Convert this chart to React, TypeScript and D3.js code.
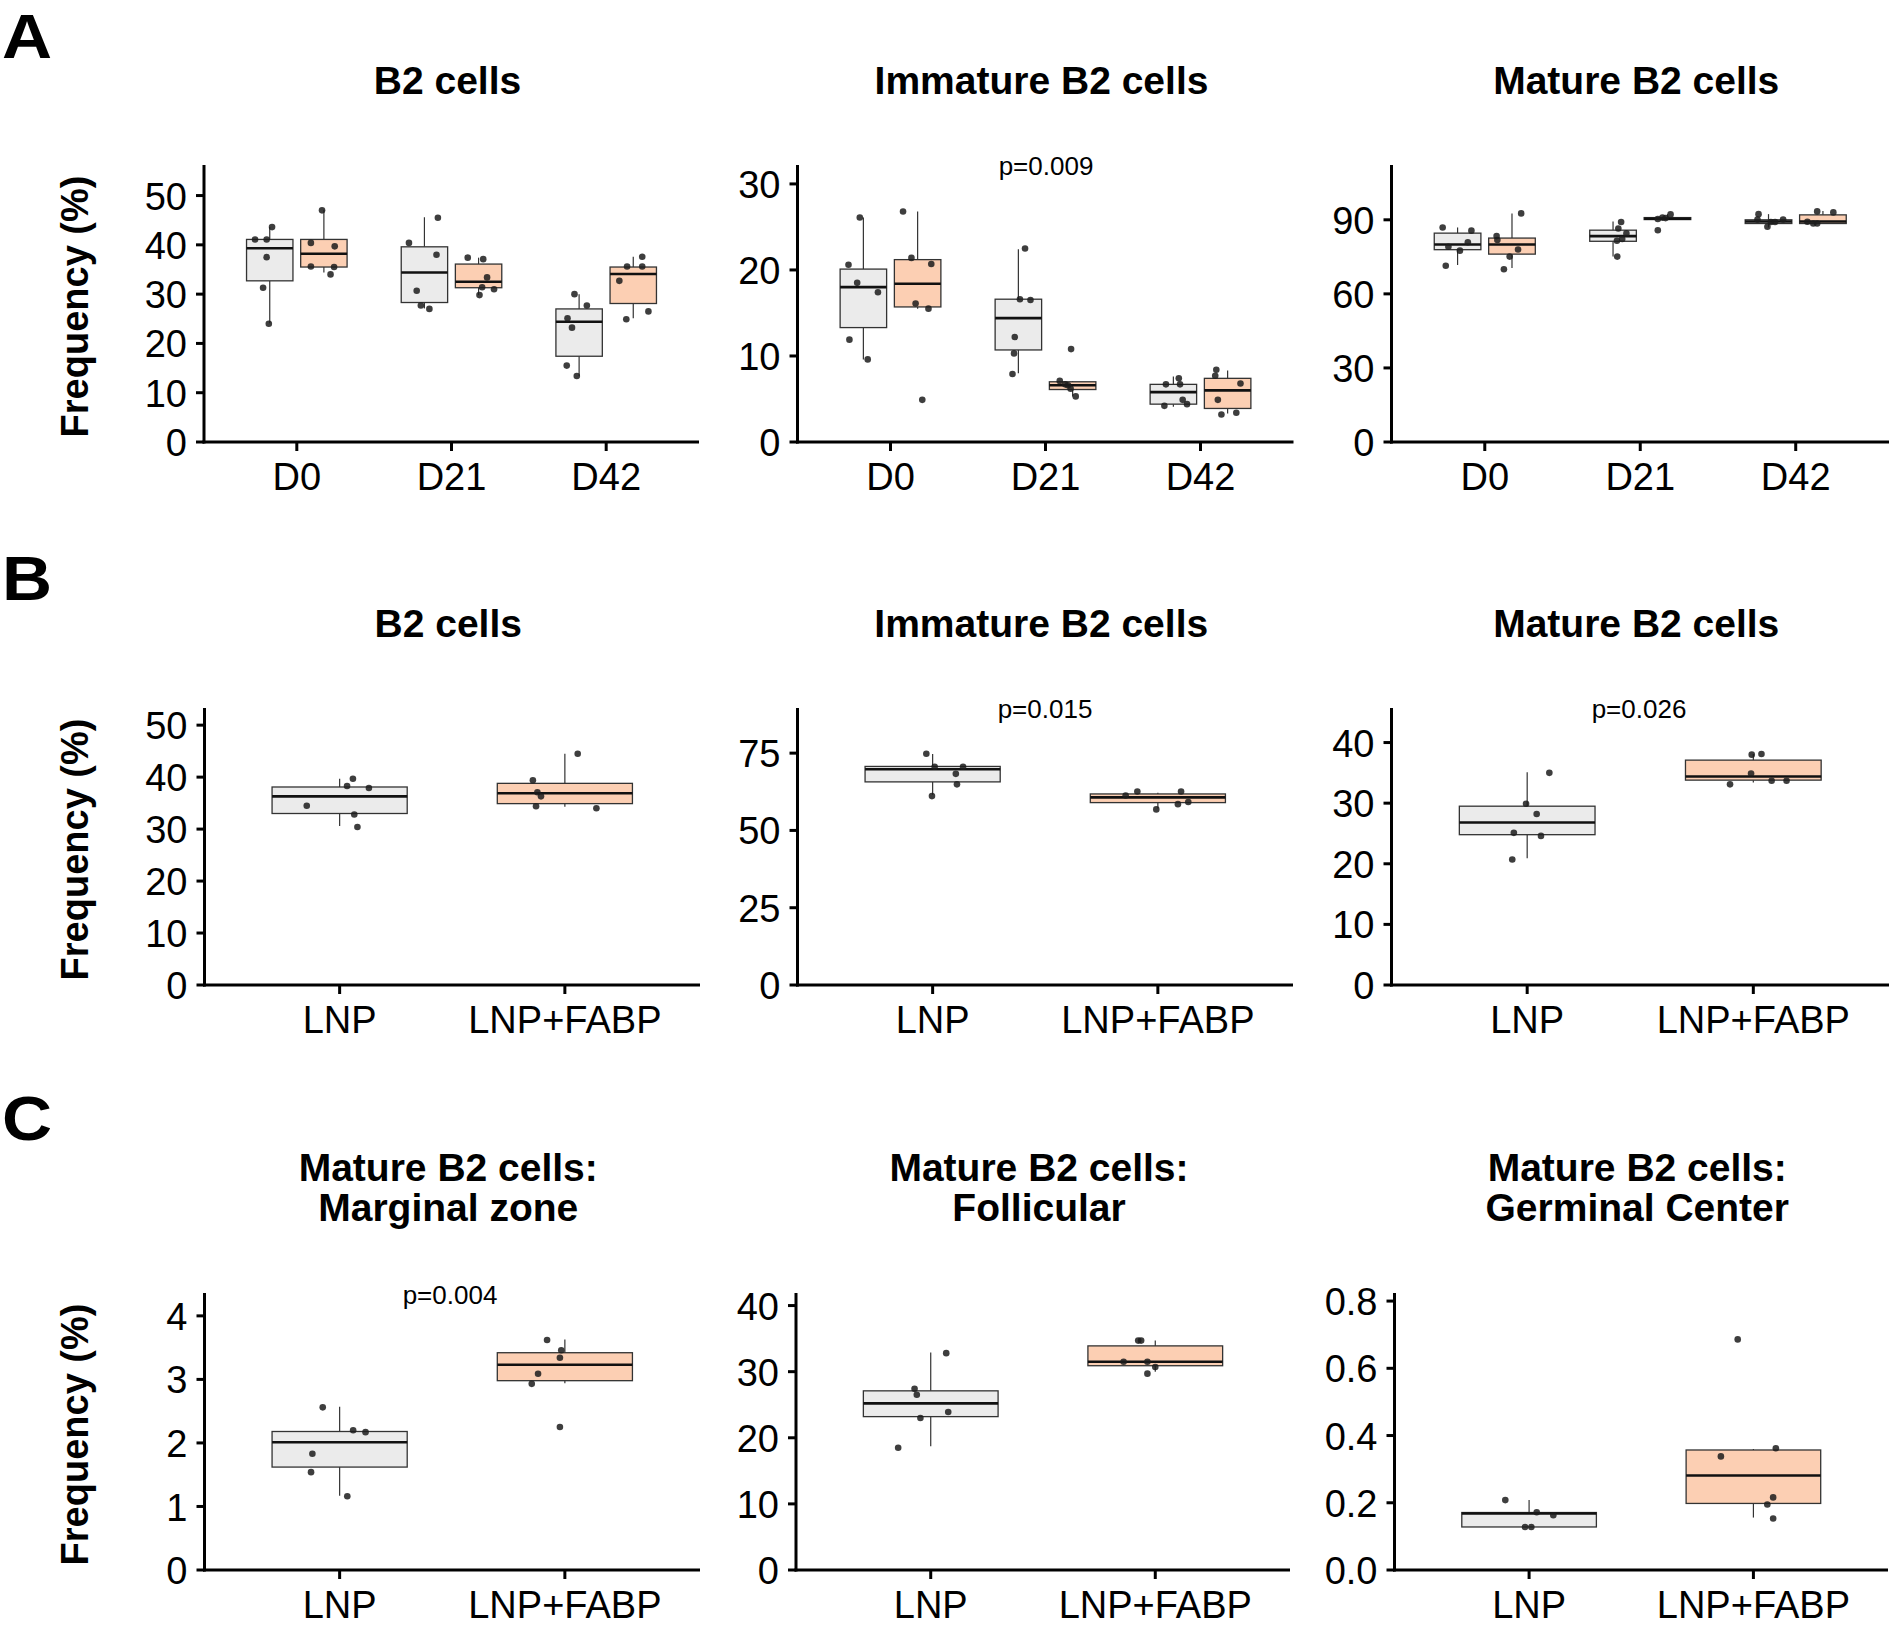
import * as d3 from "d3";

// categories
const days = ["D0", "D21", "D42"];
const treatments = ["LNP", "LNP+FABP"];
const fills = ["#ebebeb", "#fccfb3"];

// box stats per group: [lower whisker, Q1, median, Q3, upper whisker]
// row A groups are ordered D0 LNP, D0 LNP+FABP, D21 LNP, ...
const aB2Box = [
  [24.1, 32.7, 39.3, 41.1, 43.6], [34.4, 35.5, 38.2, 41.1, 47.1],
  [27.1, 28.3, 34.4, 39.6, 45.6], [29.8, 31.3, 32.5, 36.1, 37.4],
  [13.4, 17.4, 24.4, 27.0, 30.0], [25.1, 28.1, 34.1, 35.5, 37.6],
];
// points: [value, horizontal jitter in category units]
const aB2Pts = [
  [[41.1, -0.095], [41.1, -0.02], [43.6, 0.015], [37.5, -0.02], [31.3, -0.043], [24.0, -0.006]],
  [[47.0, -0.012], [40.4, -0.084], [39.7, 0.07], [35.6, -0.084], [35.5, 0.066], [34.0, 0.043]],
  [[45.5, 0.087], [40.4, -0.1], [38.0, 0.078], [30.7, -0.05], [27.7, -0.023], [27.0, 0.032]],
  [[37.4, -0.07], [37.1, 0.03], [33.4, 0.055], [31.4, 0.023], [31.0, 0.1], [29.8, 0.006]],
  [[30.0, -0.03], [27.7, 0.05], [25.1, -0.075], [23.2, -0.046], [15.5, -0.08], [13.4, -0.015]],
  [[37.6, 0.058], [35.6, -0.04], [35.6, 0.058], [32.7, -0.09], [26.5, 0.098], [24.9, -0.045]],
];

const aImmBox = [
  [9.6, 13.3, 18.0, 20.1, 26.1], [15.5, 15.7, 18.4, 21.2, 26.8],
  [8.0, 10.7, 14.4, 16.6, 22.4], [5.3, 6.1, 6.6, 7.0, 7.1],
  [4.1, 4.4, 5.8, 6.7, 7.6], [3.3, 3.9, 6.0, 7.4, 8.3],
];
const aImmPts = [
  [[26.1, -0.023], [20.6, -0.096], [18.5, -0.04], [17.4, 0.094], [11.9, -0.09], [9.6, 0.028]],
  [[26.8, -0.094], [21.4, -0.04], [20.7, 0.088], [16.1, -0.013], [15.5, 0.07], [4.9, 0.03]],
  [[22.5, 0.043], [16.6, 0.01], [16.5, 0.078], [12.2, -0.023], [10.3, -0.028], [7.9, -0.038]],
  [[10.8, -0.01], [7.1, -0.083], [6.7, -0.048], [6.6, -0.03], [6.2, -0.013], [5.3, 0.02]],
  [[6.7, -0.048], [7.4, 0.035], [6.7, 0.043], [4.9, 0.06], [4.4, 0.088], [4.2, -0.058]],
  [[8.4, -0.073], [7.7, -0.08], [6.8, 0.083], [4.9, -0.063], [3.2, -0.04], [3.4, 0.056]],
];

const aMatBox = [
  [71.7, 77.9, 80.0, 84.6, 86.9], [70.5, 76.1, 80.0, 82.6, 92.6],
  [75.1, 81.3, 83.4, 85.8, 89.3], [90.1, 90.1, 90.4, 90.9, 92.3],
  [86.9, 88.5, 89.3, 90.0, 92.3], [88.5, 88.5, 89.3, 92.0, 93.6],
];
const aMatPts = [
  [[86.9, -0.096], [85.6, 0.089], [80.9, 0.066], [79.1, -0.059], [77.5, 0.015], [71.4, -0.076]],
  [[92.6, 0.059], [83.4, -0.099], [81.8, -0.094], [78.0, 0.039], [75.1, -0.015], [70.0, -0.052]],
  [[89.1, 0.052], [86.5, 0.034], [84.5, 0.086], [82.2, 0.059], [81.5, 0.025], [75.1, 0.027]],
  [[85.8, -0.062], [90.3, -0.062], [90.9, -0.032], [90.7, -0.012], [92.2, 0.02]],
  [[92.3, -0.064], [90.1, -0.071], [87.2, -0.007], [89.1, 0.015], [89.1, 0.042], [90.1, 0.094]],
  [[93.4, -0.037], [93.0, 0.067], [89.2, -0.1], [88.5, -0.062], [88.5, -0.037]],
];

// rows B and C: groups are LNP, LNP+FABP
const bB2Box = [[30.6, 33.0, 36.3, 38.1, 39.7], [34.3, 34.9, 36.9, 38.8, 44.5]];
const bB2Pts = [
  [[39.7, 0.059], [38.3, 0.033], [37.9, 0.13], [34.5, -0.146], [32.8, 0.065], [30.4, 0.079]],
  [[44.5, 0.057], [39.4, -0.142], [37.1, -0.122], [36.3, -0.106], [34.4, -0.128], [34.0, 0.14]],
];
const bImmBox = [[61.5, 65.7, 69.8, 70.7, 74.7], [57.1, 59.0, 60.7, 61.8, 62.2]];
const bImmPts = [
  [[74.8, -0.028], [70.6, 0.009], [70.6, 0.135], [68.3, 0.103], [64.9, 0.108], [61.1, -0.003]],
  [[61.3, -0.143], [62.6, -0.091], [62.6, 0.103], [56.8, -0.007], [58.5, 0.089], [59.2, 0.135]],
];
const bMatBox = [[20.9, 24.8, 26.8, 29.5, 35.1], [33.4, 33.8, 34.4, 37.1, 38.1]];
const bMatPts = [
  [[35.0, 0.098], [29.9, -0.005], [28.2, 0.042], [25.1, -0.059], [24.6, 0.061], [20.7, -0.066]],
  [[38.0, -0.007], [38.1, 0.036], [34.9, -0.01], [33.1, -0.103], [33.7, 0.081], [33.7, 0.147]],
];
const cMzBox = [[1.17, 1.62, 2.01, 2.18, 2.57], [2.94, 2.98, 3.23, 3.42, 3.63]];
const cMzPts = [
  [[2.56, -0.075], [2.2, 0.06], [2.17, 0.115], [1.83, -0.121], [1.54, -0.127], [1.16, 0.034]],
  [[3.62, -0.079], [3.46, -0.016], [3.34, -0.022], [3.09, -0.119], [2.93, -0.147], [2.25, -0.022]],
];
const cFolBox = [[18.7, 23.2, 25.2, 27.1, 32.9], [30.0, 30.9, 31.5, 33.9, 34.7]];
const cFolPts = [
  [[32.8, 0.069], [27.4, -0.072], [26.5, -0.062], [23.9, 0.078], [23.0, -0.046], [18.5, -0.145]],
  [[34.7, -0.076], [34.7, -0.063], [31.5, -0.141], [31.5, -0.035], [30.7, 0.0], [29.7, -0.035]],
];
const cGcBox = [[0.128, 0.128, 0.168, 0.171, 0.208], [0.156, 0.198, 0.281, 0.357, 0.36]];
const cGcPts = [
  [[0.208, -0.106], [0.172, 0.034], [0.163, 0.108], [0.128, -0.018], [0.128, 0.01]],
  [[0.686, -0.07], [0.362, 0.1], [0.338, -0.145], [0.216, 0.088], [0.195, 0.062], [0.153, 0.088]],
];

const FONT = "'Liberation Sans', Arial, sans-serif";
const TICK_FS = 38;

type Spec = {
  cats: string[];
  dodge: boolean;
  boxes: number[][];
  pts: number[][][];
  x0: number; x1: number; yTop: number; yBot: number; yMax: number;
  ticks: number[]; fmt?: (v: number) => string;
  title: string[]; titleY: number;
  p?: string; pX?: number; pY?: number;
  yTitle?: boolean;
};

function Panel({ s }: { s: Spec }) {
  const x = d3.scalePoint<string>().domain(s.cats).range([s.x0, s.x1]).padding(0.6);
  const unit = x.step();
  const y = d3.scaleLinear().domain([0, s.yMax]).range([s.yBot, s.yTop]);
  const fmt = s.fmt ?? ((v: number) => String(v));
  const boxW = s.dodge ? 0.3 * unit : 0.6 * unit;
  const nS = s.dodge ? 2 : 1;

  const groups = s.boxes.map((b, i) => {
    const cat = s.cats[Math.floor(i / nS)];
    const series = s.dodge ? i % 2 : i;
    const off = s.dodge ? (series - 0.5) * 0.35 * unit : 0;
    return { b, cx: (x(cat) as number) + off, fill: fills[series], pts: s.pts[i] };
  });
  const cxMid = (s.x0 + s.x1) / 2 - 4;

  return (
    <g>
      {s.title.map((t, i) => (
        <text key={i} x={cxMid} y={s.titleY + i * 40} textAnchor="middle" fontFamily={FONT}
          fontWeight="bold" fontSize={39} fill="#000">{t}</text>
      ))}
      {s.yTitle && (
        <text transform={`translate(88,${(s.yTop + s.yBot) / 2 + 3}) rotate(-90)`} textAnchor="middle"
          fontFamily={FONT} fontWeight="bold" fontSize={38} fill="#000">Frequency (%)</text>
      )}
      {s.p && (
        <text x={s.pX} y={s.pY} textAnchor="middle" fontFamily={FONT} fontSize={26} fill="#000">{s.p}</text>
      )}
      {groups.map((g, i) => {
        const [lo, q1, med, q3, hi] = g.b;
        return (
          <g key={i}>
            <line x1={g.cx} x2={g.cx} y1={y(hi)} y2={y(q3)} stroke="#333" strokeWidth={1.2} />
            <line x1={g.cx} x2={g.cx} y1={y(q1)} y2={y(lo)} stroke="#333" strokeWidth={1.2} />
            <rect x={g.cx - boxW / 2} width={boxW} y={y(q3)} height={Math.max(0.5, y(q1) - y(q3))}
              fill={g.fill} stroke="#333" strokeWidth={1.3} />
            <line x1={g.cx - boxW / 2} x2={g.cx + boxW / 2} y1={y(med)} y2={y(med)} stroke="#111" strokeWidth={2.6} />
          </g>
        );
      })}
      {groups.map((g, i) =>
        g.pts.map((p, k) => (
          <circle key={`${i}-${k}`} cx={g.cx + p[1] * unit} cy={y(p[0])} r={3.3} fill="#1c1c1c" fillOpacity={0.85} />
        ))
      )}
      {/* axes */}
      <line x1={s.x0} x2={s.x0} y1={s.yTop} y2={s.yBot + 1.5} stroke="#000" strokeWidth={3} />
      <line x1={s.x0 - 1.5} x2={s.x1} y1={s.yBot} y2={s.yBot} stroke="#000" strokeWidth={3} />
      {s.ticks.map((t) => (
        <g key={t}>
          <line x1={s.x0 - 8} x2={s.x0} y1={y(t)} y2={y(t)} stroke="#000" strokeWidth={3} />
          <text x={s.x0 - 17} y={y(t) + 0.37 * TICK_FS} textAnchor="end" fontFamily={FONT} fontSize={TICK_FS} fill="#000">{fmt(t)}</text>
        </g>
      ))}
      {s.cats.map((c) => (
        <g key={c}>
          <line x1={x(c)} x2={x(c)} y1={s.yBot} y2={s.yBot + 9} stroke="#000" strokeWidth={3} />
          <text x={x(c)} y={s.yBot + 48} textAnchor="middle" fontFamily={FONT} fontSize={TICK_FS} fill="#000">{c}</text>
        </g>
      ))}
    </g>
  );
}

const rowA = { yTop: 165, yBot: 442, titleY: 94 };
const rowB = { yTop: 708, yBot: 985, titleY: 637 };
const rowC = { yTop: 1293, yBot: 1570, titleY: 1181 };

const specs: Spec[] = [
  { cats: days, dodge: true, boxes: aB2Box, pts: aB2Pts, x0: 204, x1: 699, ...rowA, yMax: 56.2,
    ticks: [0, 10, 20, 30, 40, 50], title: ["B2 cells"], yTitle: true },
  { cats: days, dodge: true, boxes: aImmBox, pts: aImmPts, x0: 797.5, x1: 1293.5, ...rowA, yMax: 32.2,
    ticks: [0, 10, 20, 30], title: ["Immature B2 cells"], p: "p=0.009", pX: 1046, pY: 175 },
  { cats: days, dodge: true, boxes: aMatBox, pts: aMatPts, x0: 1391.5, x1: 1889, ...rowA, yMax: 112.2,
    ticks: [0, 30, 60, 90], title: ["Mature B2 cells"] },
  { cats: treatments, dodge: false, boxes: bB2Box, pts: bB2Pts, x0: 204.5, x1: 700, ...rowB, yMax: 53.3,
    ticks: [0, 10, 20, 30, 40, 50], title: ["B2 cells"], yTitle: true },
  { cats: treatments, dodge: false, boxes: bImmBox, pts: bImmPts, x0: 797.5, x1: 1293, ...rowB, yMax: 89.6,
    ticks: [0, 25, 50, 75], title: ["Immature B2 cells"], p: "p=0.015", pX: 1045, pY: 718 },
  { cats: treatments, dodge: false, boxes: bMatBox, pts: bMatPts, x0: 1391.5, x1: 1889, ...rowB, yMax: 45.7,
    ticks: [0, 10, 20, 30, 40], title: ["Mature B2 cells"], p: "p=0.026", pX: 1639, pY: 718 },
  { cats: treatments, dodge: false, boxes: cMzBox, pts: cMzPts, x0: 204.5, x1: 700, ...rowC, yMax: 4.36,
    ticks: [0, 1, 2, 3, 4], title: ["Mature B2 cells:", "Marginal zone"], yTitle: true,
    p: "p=0.004", pX: 450, pY: 1304 },
  { cats: treatments, dodge: false, boxes: cFolBox, pts: cFolPts, x0: 796, x1: 1290, ...rowC, yMax: 41.9,
    ticks: [0, 10, 20, 30, 40], title: ["Mature B2 cells:", "Follicular"] },
  { cats: treatments, dodge: false, boxes: cGcBox, pts: cGcPts, x0: 1394.5, x1: 1888, ...rowC, yMax: 0.824,
    ticks: [0, 0.2, 0.4, 0.6, 0.8], fmt: d3.format(".1f"), title: ["Mature B2 cells:", "Germinal Center"] },
];

const letters = [["A", 58], ["B", 600], ["C", 1140]];

export default function App() {
  return (
    <svg width={1890} height={1630} style={{ position: "absolute", left: 0, top: 0, background: "#fff" }}>
      <rect width={1890} height={1630} fill="#fff" />
      {letters.map(([l, yy]) => (
        <text key={l as string} transform={`translate(2,${yy}) scale(1.1,1)`} fontFamily={FONT}
          fontWeight="bold" fontSize={63} fill="#000">{l}</text>
      ))}
      {specs.map((s, i) => <Panel key={i} s={s} />)}
    </svg>
  );
}
